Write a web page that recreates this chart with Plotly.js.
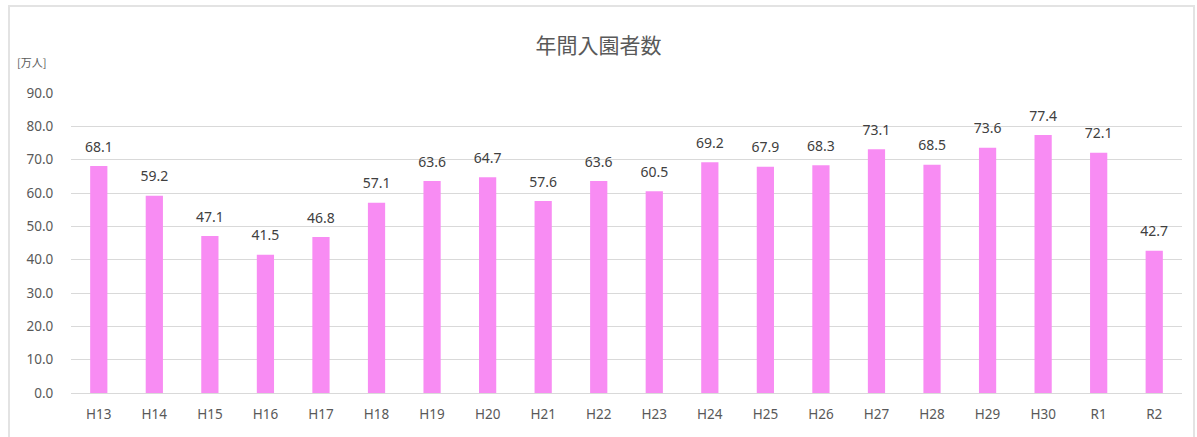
<!DOCTYPE html>
<html>
<head>
<meta charset="utf-8">
<script src="https://cdn.plot.ly/plotly-3.0.1.min.js"></script>
<style>
html,body{margin:0;padding:0;background:#fff;overflow:hidden;}
#wrap{position:relative;width:1197px;height:437px;}
#chart{position:absolute;left:0;top:0;width:1197px;height:437px;}
#frame{position:absolute;left:8px;top:5px;width:1183px;height:450px;border:2px solid #e3e3e3;pointer-events:none;}
</style>
</head>
<body>
<div id="wrap">
<div id="chart"></div>
<div id="frame"></div>
</div>
<script>
const categories = ["H13","H14","H15","H16","H17","H18","H19","H20","H21","H22","H23","H24","H25","H26","H27","H28","H29","H30","R1","R2"];
const visitors = [68.1,59.2,47.1,41.5,46.8,57.1,63.6,64.7,57.6,63.6,60.5,69.2,67.9,68.3,73.1,68.5,73.6,77.4,72.1,42.7];
const yTicks = [0,10,20,30,40,50,60,70,80,90];

const bars = {
  type: 'bar',
  x: categories,
  y: visitors,
  marker: {color: '#F88CF3'},
  hoverinfo: 'x+y'
};

const labels = {
  type: 'scatter',
  mode: 'markers+text',
  x: categories,
  y: visitors,
  text: visitors.map(v => v.toFixed(1)),
  textposition: 'top center',
  marker: {size: 16, opacity: 0, color: '#ffffff'},
  textfont: {family: 'Noto Sans, sans-serif', size: 14, color: '#404040'},
  cliponaxis: false,
  hoverinfo: 'skip'
};

const layout = {
  width: 1197, height: 437,
  margin: {l: 71, r: 15, t: 93, b: 44},
  paper_bgcolor: 'rgba(0,0,0,0)',
  plot_bgcolor: 'rgba(0,0,0,0)',
  bargap: 0.69,
  showlegend: false,
  font: {family: 'Noto Sans, sans-serif', color: '#595959'},
  title: {text: '年間入園者数', x: 0.5, xanchor: 'center', y: 0.895, yanchor: 'middle',
          font: {family: 'Noto Sans CJK JP, sans-serif', size: 21, color: '#595959'}},
  xaxis: {
    type: 'category',
    range: [-0.5, categories.length - 0.5],
    tickfont: {size: 13.5, color: '#595959'},
    ticks: 'outside', ticklen: 9, tickcolor: 'rgba(0,0,0,0)',
    showline: false, showgrid: false, zeroline: false, fixedrange: true
  },
  yaxis: {
    range: [0, 90],
    tickvals: yTicks,
    ticktext: yTicks.map(v => v.toFixed(1)),
    tickfont: {size: 13.5, color: '#595959'},
    ticks: 'outside', ticklen: 14, tickcolor: 'rgba(0,0,0,0)',
    gridcolor: '#d9d9d9', gridwidth: 1,
    zeroline: true, zerolinecolor: '#d9d9d9', zerolinewidth: 1,
    showline: false, fixedrange: true
  },
  annotations: [{
    text: '[万人]', xref: 'paper', yref: 'paper', x: -0.05, y: 1.105,
    xanchor: 'left', yanchor: 'middle', showarrow: false,
    font: {family: 'Noto Sans CJK JP, sans-serif', size: 11, color: '#595959'}
  }]
};

Plotly.newPlot('chart', [bars, labels], layout, {displayModeBar: false, staticPlot: true});
</script>
</body>
</html>
